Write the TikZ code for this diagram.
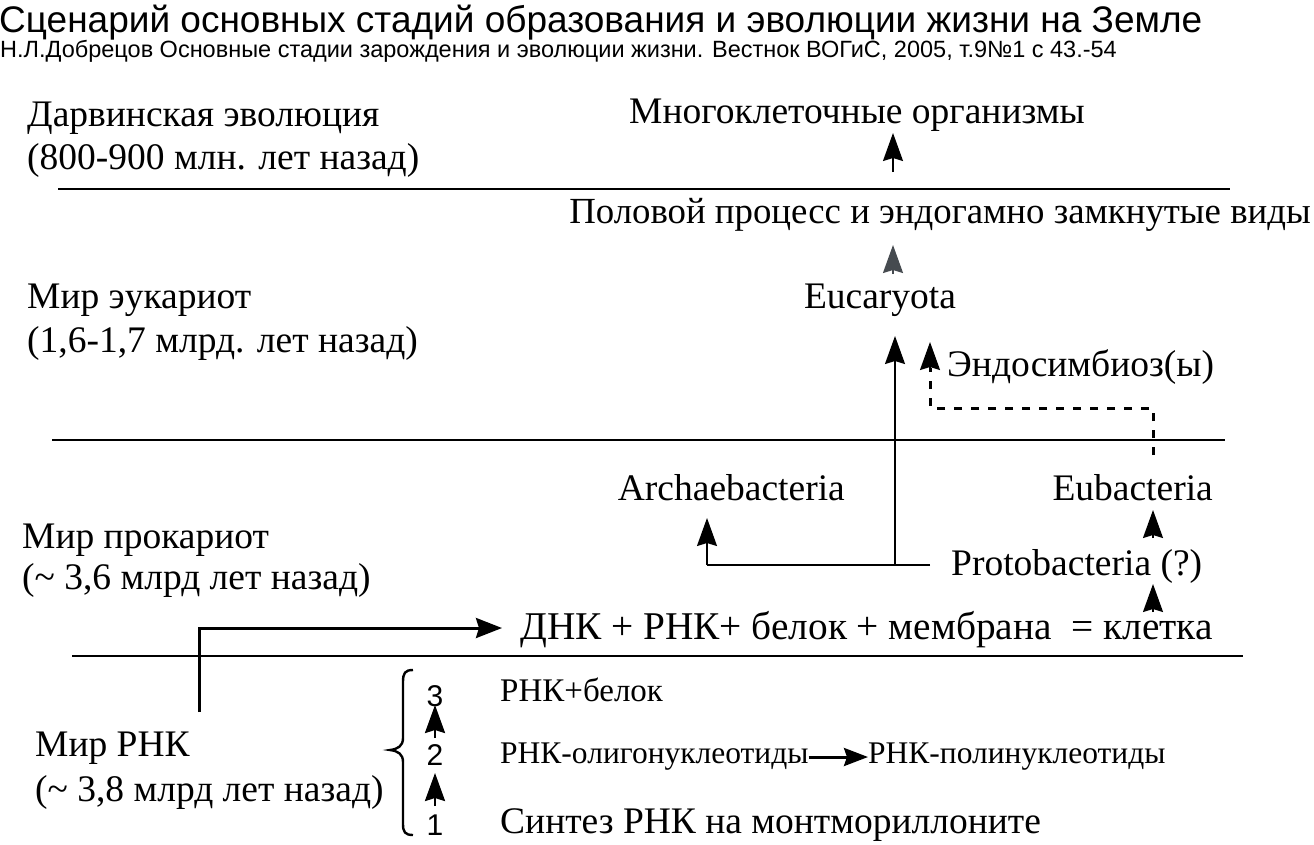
\documentclass[tikz,border=0pt]{standalone}
\usepackage{fontspec}
\setmainfont{Liberation Serif}
\newfontfamily\arial{Liberation Sans}
\usetikzlibrary{arrows.meta}
\begin{document}
\begin{tikzpicture}[x=1pt,y=-1pt,
  lbl/.style={inner sep=0pt,font=\fontsize{37.5}{42}\selectfont},
  sml/.style={inner sep=0pt,font=\fontsize{31.5}{34}\selectfont},
  num/.style={inner sep=0pt,font=\arial\fontsize{30}{32}\selectfont},
  sep/.style={line width=1.6pt},
  up/.style={line width=1.6pt,-{Stealth[length=28pt,width=20pt,inset=3pt]}},
  thk/.style={line width=3pt,-{Stealth[length=26pt,width=20pt,inset=3pt]}},
  dots/.style={line width=3pt,dash pattern=on 8pt off 9pt}]
\useasboundingbox (0,0) rectangle (1314,844);
% titles
\node[anchor=base west,inner sep=0pt,font=\arial\fontsize{37}{40}\selectfont] (title) at (-1,32) {Сценарий основных стадий образования и эволюции жизни на Земле};
\node[anchor=base west,inner sep=0pt,font=\arial\fontsize{23.5}{26}\selectfont] (sub) at (0,57) {Н.Л.Добрецов Основные стадии зарождения и эволюции жизни. Вестнок ВОГиС, 2005, т.9№1 с 43.-54};
% left labels
\node[lbl,anchor=west] (d1) at (27,118) {Дарвинская эволюция};
\node[lbl,anchor=west] (d2) at (27,160) {(800-900 млн. лет назад)};
\node[lbl,anchor=west] (e1) at (27,300) {Мир эукариот};
\node[lbl,anchor=west] (e2) at (27,343) {(1,6-1,7 млрд. лет назад)};
\node[lbl,anchor=west] (p1) at (22,540) {Мир прокариот};
\node[lbl,anchor=west] (p2) at (22,580) {(\textasciitilde{} 3,6 млрд лет назад)};
\node[lbl,anchor=west] (r1) at (35,748) {Мир РНК};
\node[lbl,anchor=west] (r2) at (35,792) {(\textasciitilde{} 3,8 млрд лет назад)};
% separators
\draw[sep] (58,189) -- (1230,189);
\draw[sep] (52,440) -- (1225,440);
\draw[sep] (72,656) -- (1243,656);
% right column
\node[lbl] (multi) at (857,115) {Многоклеточные организмы};
\node[lbl,anchor=east,font=\fontsize{36.8}{42}\selectfont] (sex) at (1311,215) {Половой процесс и эндогамно замкнутые виды};
\node[lbl] (euk) at (880,300) {Eucaryota};
\node[lbl,anchor=west] (endo) at (947,367) {Эндосимбиоз(ы)};
\node[lbl,anchor=east] (arch) at (845,488) {Archaebacteria};
\node[lbl,anchor=east] (eub) at (1213,488) {Eubacteria};
\node[lbl,anchor=west] (proto) at (951,566) {Protobacteria (?)};
\node[lbl,anchor=west,font=\fontsize{39.3}{42}\selectfont] (cell) at (520,630) {ДНК + РНК+ белок + мембрана \ = клетка};
% arrows
\coordinate (m0) at (893,172); \coordinate (m1) at (893,133);
\draw[up] (m0) -- (m1);
\coordinate (s0) at (893,274); \coordinate (s1) at (893,245);
\draw[up,draw={rgb,255:red,70;green,75;blue,80},fill={rgb,255:red,70;green,75;blue,80}] (s0) -- (s1);
\coordinate (j) at (895,565); \coordinate (pl) at (930,565); \coordinate (al) at (707,565);
\draw[line width=1.6pt] (pl) -- (al);
\draw[up] (al) -- (707,518);
\draw[up] (j) -- (895,336);
\draw[dots] (1153,455) -- (1153,408) -- (930,408) -- (930,368);
\draw[line width=1.6pt,-{Stealth[length=28pt,width=20pt,inset=3pt]}] (930,370) -- (930,342);
\draw[up] (1153,538) -- (1153,510);
\draw[up] (1153,612) -- (1153,584);
\coordinate (rv) at (199,712);
\coordinate (rt) at (502,628);
\draw[thk] (rv) -- (199,628) -- (rt);
% RNA world
\draw[line width=2.4pt] (413,670) .. controls (405,670) and (403,673) .. (403,682) -- (403,738) .. controls (403,746) and (398,749) .. (390,750) .. controls (398,751) and (403,754) .. (403,762) -- (403,824) .. controls (403,832) and (405,835) .. (413,835);
\node[num] (n3) at (435,696) {3};
\node[num] (n2) at (435,755) {2};
\node[num] (n1) at (435,825) {1};
\coordinate (a2) at (435,738); \coordinate (a1) at (435,806);
\draw[line width=2.4pt,-{Stealth[length=28pt,width=20pt,inset=3pt]}] (a2) -- (435,705);
\draw[line width=2.4pt,-{Stealth[length=28pt,width=20pt,inset=3pt]}] (a1) -- (435,773);
\node[sml,anchor=west,font=\fontsize{33}{36}\selectfont] (rb) at (500,690) {РНК+белок};
\node[sml,anchor=west] (ro) at (500,757) {РНК-олигонуклеотиды};
\node[sml,anchor=west] (rp) at (868,757) {РНК-полинуклеотиды};
\draw[line width=3pt,-{Stealth[length=24pt,width=18pt,inset=3pt]}] (ro.east) -- (rp.west);
\node[lbl,anchor=west] (syn) at (500,825) {Синтез РНК на монтмориллоните};
\end{tikzpicture}
\end{document}
